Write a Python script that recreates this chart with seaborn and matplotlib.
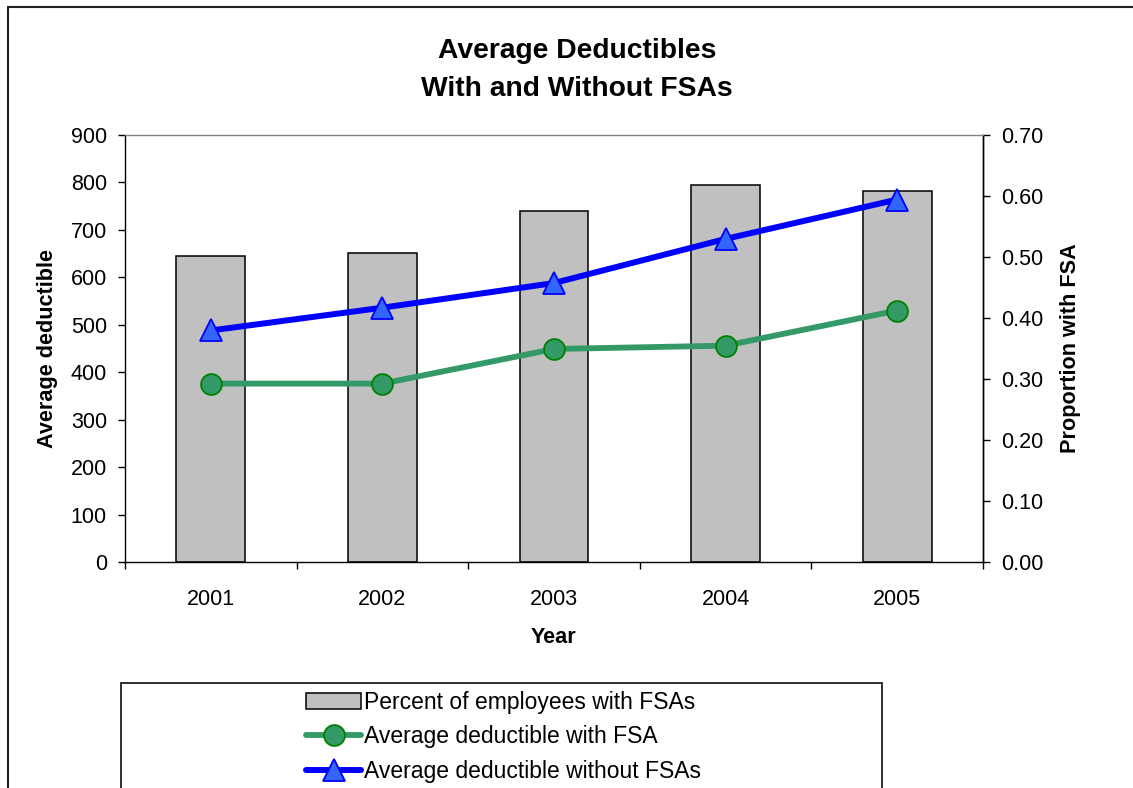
import numpy as np
import matplotlib
matplotlib.use("Agg")
import matplotlib.pyplot as plt
from matplotlib.lines import Line2D
from matplotlib.patches import Rectangle
from matplotlib.ticker import FixedLocator, NullFormatter, FormatStrFormatter
import seaborn as sns

# ---- data -------------------------------------------------------------
years = ["2001", "2002", "2003", "2004", "2005"]
prop_with_fsa = [0.502, 0.507, 0.575, 0.618, 0.609]     # right axis (bars)
ded_with_fsa = [376, 376, 449, 456, 530]                # left axis (green)
ded_without_fsa = [488, 536, 588, 681, 764]             # left axis (blue)

left_ticks = list(range(0, 901, 100))
right_ticks = [0.0, 0.1, 0.2, 0.3, 0.4, 0.5, 0.6, 0.7]

# ---- style ------------------------------------------------------------
sns.set_style("white")
plt.rcParams["font.family"] = ["Liberation Sans", "DejaVu Sans"]
plt.rcParams.update({
    "text.color": "black",
    "axes.labelcolor": "black",
    "xtick.color": "black",
    "ytick.color": "black",
    "axes.edgecolor": "black",
})

BAR_FACE = "#C0C0C0"
GREEN = "#339966"
GREEN_EDGE = "#008000"
BLUE = "#0000FF"
BLUE_FACE = "#3366FF"
TICK_FS = 15.5
LABEL_FS = 15.6

W, H = 1133, 788
fig = plt.figure(figsize=(W / 100, H / 100), dpi=100)
fig.patch.set_facecolor("white")

ax1 = fig.add_axes([125 / W, 1 - 562 / H, 858 / W, 427 / H])
ax2 = ax1.twinx()

# bars on the secondary axis
sns.barplot(x=years, y=prop_with_fsa, ax=ax2, color=BAR_FACE, saturation=1,
            width=0.4, edgecolor="black", linewidth=1.1, zorder=2)

# lines on the primary axis
n0 = len(ax1.lines)
sns.pointplot(x=years, y=ded_with_fsa, ax=ax1, color=GREEN, markers="o",
              errorbar=None, linewidth=4.2, markersize=15)
sns.pointplot(x=years, y=ded_without_fsa, ax=ax1, color=BLUE, markers="^",
              errorbar=None, linewidth=4.3, markersize=16)
line_with, line_without = ax1.lines[n0], ax1.lines[n0 + 1]
line_with.set(color=GREEN, markerfacecolor=GREEN, markeredgecolor=GREEN_EDGE,
              markeredgewidth=1.3, markersize=15, linewidth=4.2)
line_without.set(color=BLUE, markerfacecolor=BLUE_FACE, markeredgecolor=BLUE,
                 markeredgewidth=1.3, markersize=16, linewidth=4.3)

ax1.set_zorder(ax2.get_zorder() + 1)
ax1.patch.set_visible(False)

# ---- axes scales & ticks ---------------------------------------------
ax1.set_xlim(-0.5, len(years) - 0.5)
ax1.set_ylim(0, 900)
ax2.set_ylim(0, 0.7)

ax1.yaxis.set_major_locator(FixedLocator(left_ticks))
ax1.set_yticklabels([str(v) for v in left_ticks])
ax2.yaxis.set_major_locator(FixedLocator(right_ticks))
ax2.yaxis.set_major_formatter(FormatStrFormatter("%.2f"))

boundaries = np.arange(-0.5, len(years), 1.0)
ax1.xaxis.set_major_locator(FixedLocator(boundaries))
ax1.xaxis.set_major_formatter(NullFormatter())
ax1.set_xticks(range(len(years)), labels=years, minor=True)

ax1.tick_params(axis="x", which="major", direction="out", length=5, width=1,
                color="black", bottom=True)
ax1.tick_params(axis="x", which="minor", length=0, pad=19.5, labelsize=TICK_FS,
                labelcolor="black", bottom=True, labelbottom=True)
ax1.tick_params(axis="y", direction="out", length=5, width=1, pad=8,
                labelsize=TICK_FS, labelcolor="black", left=True, right=False)
ax2.tick_params(axis="y", direction="out", length=5, width=1, pad=8,
                labelsize=TICK_FS, labelcolor="black", right=True, left=False)

ax1.grid(False)
ax2.grid(False)

for name, sp in ax1.spines.items():
    sp.set_visible(True)
    sp.set_linewidth(1.0)
    sp.set_color("black")
ax1.spines["top"].set_color("#808080")
for name, sp in ax2.spines.items():
    sp.set_visible(name == "right")
ax2.spines["right"].set_color("black")
ax2.spines["right"].set_linewidth(1.0)

ax1.set_xlabel("Year", fontsize=LABEL_FS, fontweight="bold", labelpad=12.5,
               color="black")
ax1.set_ylabel("Average deductible", fontsize=LABEL_FS, fontweight="bold",
               labelpad=9, color="black")
ax2.set_ylabel("Proportion with FSA", fontsize=LABEL_FS, fontweight="bold",
               labelpad=12, color="black")

# ---- title ------------------------------------------------------------
fig.text(577 / W, 1 - 70 / H, "Average Deductibles\nWith and Without FSAs",
         ha="center", va="center", fontsize=20.3, fontweight="bold",
         linespacing=1.58, color="black")

# ---- legend -----------------------------------------------------------
bar_handle = Rectangle((0, 0), 1, 1, facecolor=BAR_FACE, edgecolor="black",
                       linewidth=1.1)
leg = fig.legend([bar_handle, line_with, line_without],
                 ["Percent of employees with FSAs", "Average deductible with FSA",
                  "Average deductible without FSAs"],
                 loc="upper left", bbox_to_anchor=(306 / W, 1 - 691 / H),
                 frameon=False, fontsize=16.5, borderpad=0, labelspacing=0.5,
                 handlelength=2.4, handletextpad=0.15, borderaxespad=0)
for t in leg.get_texts():
    t.set_color("black")

# legend box (runs past the bottom edge)
fig.add_artist(Rectangle((121 / W, -0.05), (882 - 121) / W, (1 - 683 / H) + 0.05,
                         transform=fig.transFigure, fill=False,
                         edgecolor="#202020", linewidth=1.3))

# outer chart border (left and top edges)
fig.add_artist(Line2D([7.5 / W, 7.5 / W], [0, 1 - 7 / H], transform=fig.transFigure,
                      color="#202020", linewidth=1.5))
fig.add_artist(Line2D([7.5 / W, 1], [1 - 7 / H, 1 - 7 / H], transform=fig.transFigure,
                      color="#202020", linewidth=1.5))

fig.savefig("out.png", dpi=100)
